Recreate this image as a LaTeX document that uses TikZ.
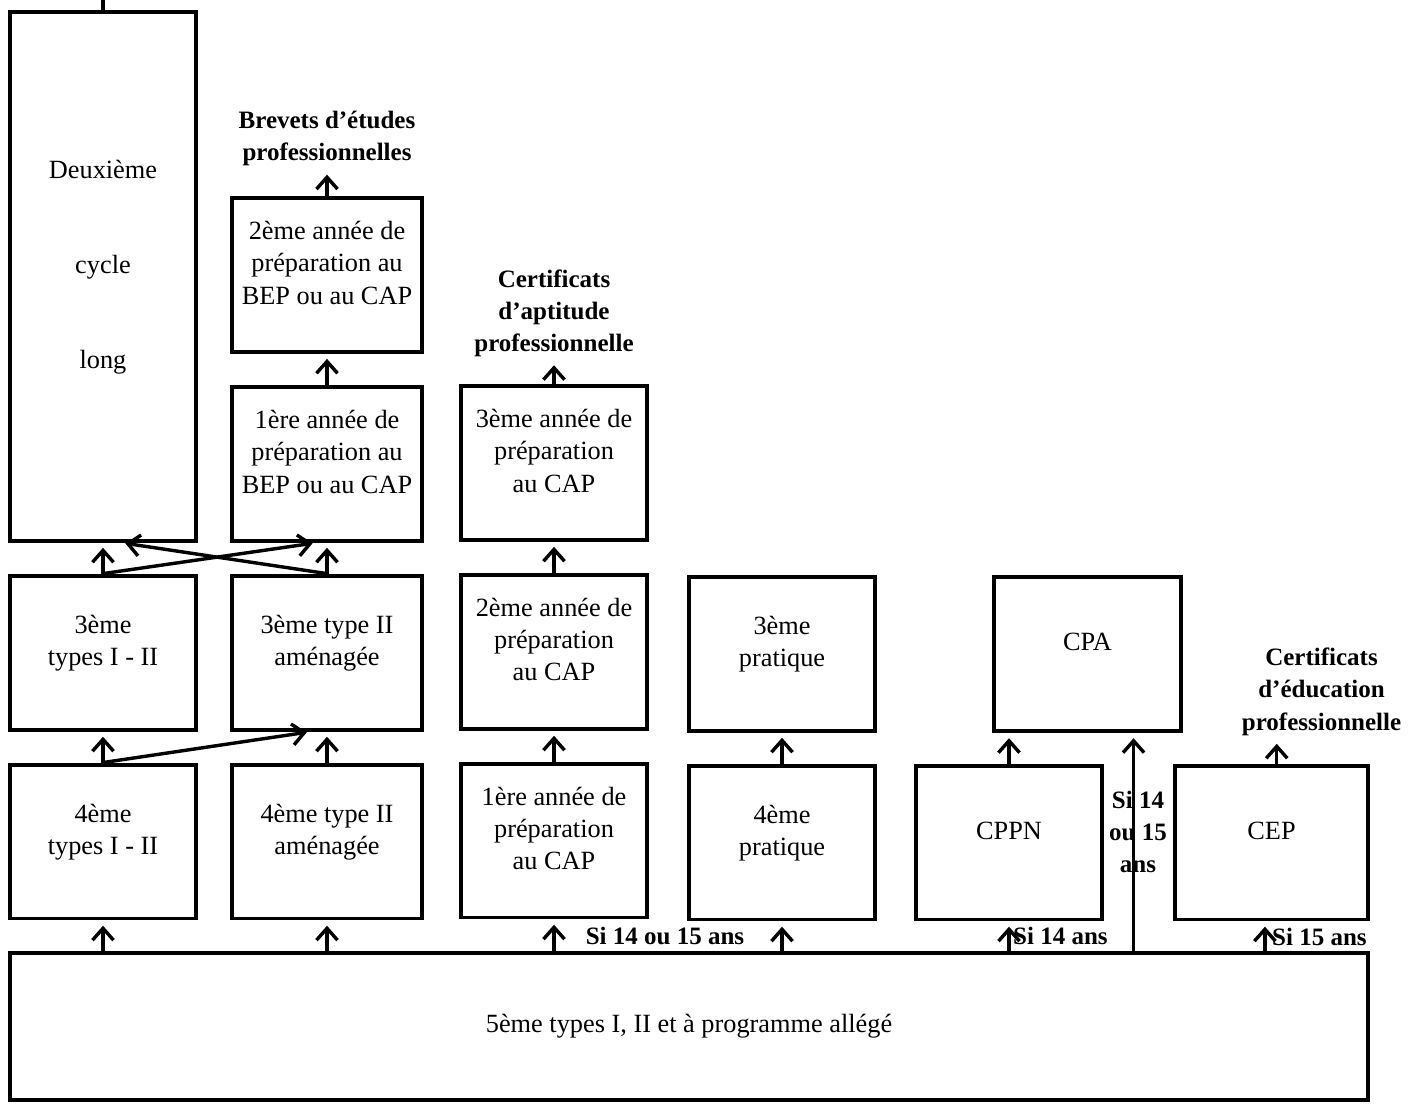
\documentclass[tikz,border=0pt]{standalone}
\usepackage{fontspec}
\setmainfont{Liberation Serif}
\usetikzlibrary{arrows.meta,positioning,calc}

\begin{document}
\begin{tikzpicture}[x=0.38pt,y=-0.38pt,node distance=11.8pt,
  box/.style={draw,line width=1.5pt,minimum width=71pt,minimum height=58.5pt,align=center,inner sep=2pt,font=\fontsize{10}{12.2}\selectfont,
    execute at end node={\rule[-9pt]{0pt}{0pt}}},
  note/.style={align=center,inner sep=1pt,font=\fontsize{9.5}{12.2}\selectfont\bfseries},
  arrow/.style={-{Straight Barb[length=4.5pt,width=8pt,line width=1.3pt]},line width=1.3pt,shorten >=2pt}]
  \useasboundingbox (0,0) rectangle (1415,1104);
  % premier rang
  \node[box] (q1) at (103,841.5) {4ème\\types I - II};
  \node[box,minimum width=72pt] (q2) at (327,841.5) {4ème type II\\aménagée};
  \node[box] (c1) at (554,840.5) {1ère année de\\préparation\\au CAP};
  \node[box] (p1) at (782,842.5) {4ème\\pratique};
  \node[box] (cppn) at (1009,842.5) {CPPN};
  \node[box,minimum width=73pt] (cep) at (1271.5,842.5) {CEP};
  \node[box,minimum width=516pt,minimum height=56pt,text depth=2.5pt] (base) at (689,1026.5) {5ème types I, II et à programme allégé};
  % rangs suivants
  \node[box,above=of q1] (t1) {3ème\\types I - II};
  \node[box,above=of q2,minimum width=72pt] (t2) {3ème type II\\aménagée};
  \node[box,above=of c1] (c2) {2ème année de\\préparation\\au CAP};
  \node[box,above=of p1] (p2) {3ème\\pratique};
  \node[box] (cpa) at (1087.5,654) {CPA};
  \node[box,above=of t1,minimum height=201pt] (dc) {Deuxième\\[24pt]cycle\\[24pt]long};
  \node[box,above=of t2,minimum width=72pt] (b1) {1ère année de\\préparation au\\BEP ou au CAP};
  \node[box,above=of b1,minimum width=72pt] (b2) {2ème année de\\préparation au\\BEP ou au CAP};
  \node[box,above=of c2] (c3) {3ème année de\\préparation\\au CAP};
  % diplomes
  \node[note,above=10pt of b2] (bep) {Brevets d’études\\professionnelles};
  \node[note,above=9pt of c3] (cap) {Certificats\\d’aptitude\\professionnelle};
  \node[note,above=9.5pt of cep,xshift=19pt] (cepn) {Certificats\\d’éducation\\professionnelle};
  % conditions d'age
  \node[note] (si1) at (665,936) {Si 14 ou 15 ans};
  \node[note,anchor=west] (si2) at (1010,936) {Si 14 ans};
  \node[note,anchor=west] (si3) at (1269,937) {Si 15 ans};
  \node[note] (si4) at (1138,832) {Si 14\\ou 15\\ans};
  \coordinate (cpain) at ([xshift=17.5pt]cpa.south);
  \coordinate (dcout) at (103,0);
  % fleches
  \draw[arrow] (base.north -| q1.south) -- (q1.south);
  \draw[arrow] (base.north -| q2.south) -- (q2.south);
  \draw[arrow] (base.north -| c1.south) -- (c1.south);
  \draw[arrow] (base.north -| p1.south) -- (p1.south);
  \draw[arrow] (base.north -| cppn.south) -- (cppn.south);
  \draw[arrow] ([xshift=-2.5pt]base.north -| cep.south) -- ([xshift=-2.5pt]cep.south);
  \draw[arrow] (base.north -| cpain) -- (cpain);
  \draw[arrow] (q1.north) -- (t1.south);
  \draw[arrow] (q1.north) -- ([xshift=-5.7pt]t2.south);
  \draw[arrow] (q2.north) -- (t2.south);
  \draw[arrow] (t1.north) -- (dc.south);
  \draw[arrow] (t1.north) -- ([xshift=-3.5pt]b1.south);
  \draw[arrow] (t2.north) -- ([xshift=6.5pt]dc.south);
  \draw[arrow] (t2.north) -- (b1.south);
  \draw[arrow] (b1.north) -- (b2.south);
  \draw[arrow] (b2.north) -- (bep.south);
  \draw[arrow] (c1.north) -- (c2.south);
  \draw[arrow] (c2.north) -- (c3.south);
  \draw[arrow] (c3.north) -- (cap.south);
  \draw[arrow] (p1.north) -- (p2.south);
  \draw[arrow] (cppn.north) -- (cppn.north |- cpa.south);
  \draw[arrow] ([xshift=2pt]cep.north) -- ([xshift=2pt]cep.north |- cepn.south);
  \draw[line width=1.3pt] (dc.north) -- (dcout);
\end{tikzpicture}
\end{document}
